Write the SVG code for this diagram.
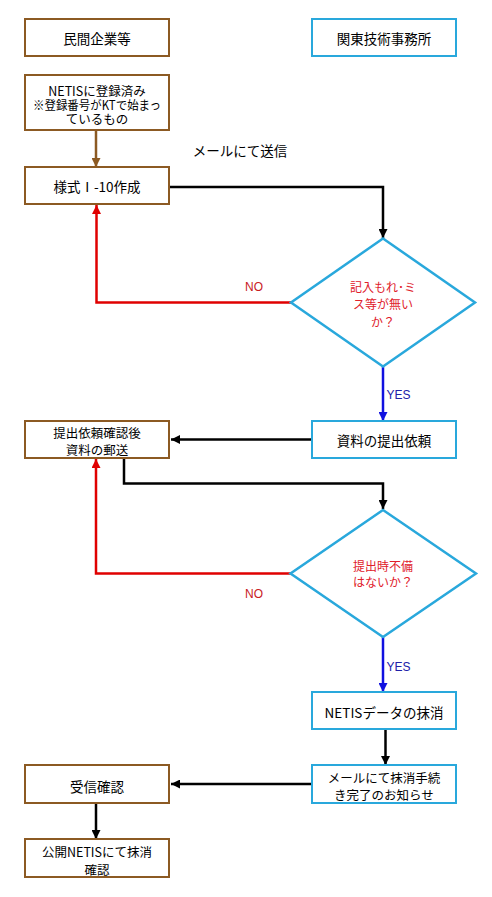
<svg xmlns="http://www.w3.org/2000/svg" width="492" height="897" viewBox="0 0 492 897">
<style>
.bb{fill:#fff;stroke:#8c5a23;stroke-width:2}
.cb{fill:#fff;stroke:#29a8dc;stroke-width:2}
.dm{fill:#fff;stroke:#29a8dc;stroke-width:2.5}
.t{font-family:"Noto Sans CJK JP","Noto Sans",sans-serif;font-size:13.5px;fill:#000;text-anchor:middle;dominant-baseline:central}
.s{font-size:12.5px}
.dt{font-family:"Noto Sans CJK JP","Noto Sans",sans-serif;font-size:12px;fill:#e0202a;text-anchor:middle;dominant-baseline:central}
.no{font-family:"Liberation Sans",Arial,sans-serif;font-size:12px;fill:#c8201e;dominant-baseline:central}
.yes{font-family:"Liberation Sans",Arial,sans-serif;font-size:12px;fill:#2020a8;dominant-baseline:central}
.k{fill:none;stroke:#000;stroke-width:2.5}
.r{fill:none;stroke:#e00000;stroke-width:2.5}
.b{fill:none;stroke:#1010e0;stroke-width:2.5}
.w{fill:none;stroke:#8c5a23;stroke-width:2.5}
</style>
<defs>
<marker id="ak" markerUnits="userSpaceOnUse" markerWidth="10" markerHeight="9" refX="9" refY="4.5" orient="auto"><path d="M0,0 L9,4.5 L0,9 z" fill="#000"/></marker>
<marker id="ar" markerUnits="userSpaceOnUse" markerWidth="10" markerHeight="9" refX="9" refY="4.5" orient="auto"><path d="M0,0 L9,4.5 L0,9 z" fill="#e00000"/></marker>
<marker id="ab" markerUnits="userSpaceOnUse" markerWidth="10" markerHeight="9" refX="9" refY="4.5" orient="auto"><path d="M0,0 L9,4.5 L0,9 z" fill="#1010e0"/></marker>
<marker id="aw" markerUnits="userSpaceOnUse" markerWidth="10" markerHeight="9" refX="9" refY="4.5" orient="auto"><path d="M0,0 L9,4.5 L0,9 z" fill="#8c5a23"/></marker>
</defs>
<rect width="492" height="897" fill="#fff"/>
<g id="connectors">
<path class="w" d="M96 130 V167" marker-end="url(#aw)"/>
<path class="k" d="M169 187 H383 V238" marker-end="url(#ak)"/>
<path class="r" d="M291 302.5 H96.5 V205" marker-end="url(#ar)"/>
<path class="b" d="M383 367 V421" marker-end="url(#ab)"/>
<path class="k" d="M312 439.5 H171" marker-end="url(#ak)"/>
<path class="r" d="M291 573.5 H96 V459" marker-end="url(#ar)"/>
<path class="k" d="M124 458 V483.5 H383 V509" marker-end="url(#ak)"/>
<path class="b" d="M383 637 V692" marker-end="url(#ab)"/>
<path class="k" d="M385.5 729 V765" marker-end="url(#ak)"/>
<path class="k" d="M312 784 H171" marker-end="url(#ak)"/>
<path class="k" d="M96 803 V839" marker-end="url(#ak)"/>
<text class="t" x="240" y="150">メールにて送信</text>
<text class="no" x="245" y="287">NO</text>
<text class="yes" x="386.5" y="395">YES</text>
<text class="no" x="245" y="594">NO</text>
<text class="yes" x="386.5" y="666.5">YES</text>
</g>
<g id="n-minkan"><rect class="bb" x="25" y="19" width="144" height="37"/><text class="t" x="97" y="37.5">民間企業等</text></g>
<g id="n-kanto"><rect class="cb" x="312" y="19" width="144" height="37"/><text class="t" x="384" y="37.5">関東技術事務所</text></g>
<g id="n-netis"><rect class="bb" x="25" y="75" width="144" height="55"/><text class="t s" x="97" y="90">NETISに登録済み</text><text class="t s" x="97" y="104" textLength="128" lengthAdjust="spacingAndGlyphs">※登録番号がKTで始まっ</text><text class="t s" x="97" y="118">ているもの</text></g>
<g id="n-yoshiki"><rect class="bb" x="25" y="167" width="144" height="37"/><text class="t" x="97" y="186">様式Ⅰ-10作成</text></g>
<g id="d-check1"><polygon class="dm" points="383,238.5 475,302.5 383,366.5 291,302.5"/><text class="dt" x="383" y="286">記入もれ･ミ</text><text class="dt" x="383" y="303.5">ス等が無い</text><text class="dt" x="383" y="321">か？</text></g>
<g id="n-irai"><rect class="cb" x="312" y="421" width="144" height="37"/><text class="t" x="384" y="440">資料の提出依頼</text></g>
<g id="n-yuso"><rect class="bb" x="25" y="421" width="144" height="37"/><text class="t s" x="97" y="432">提出依頼確認後</text><text class="t s" x="97" y="449.5">資料の郵送</text></g>
<g id="d-check2"><polygon class="dm" points="383,510 476,573.5 383,637 290.5,573.5"/><text class="dt" x="383" y="565">提出時不備</text><text class="dt" x="383" y="581.5">はないか？</text></g>
<g id="n-massho"><rect class="cb" x="312" y="692" width="144" height="37"/><text class="t" x="384" y="712">NETISデータの抹消</text></g>
<g id="n-oshirase"><rect class="cb" x="312" y="765" width="144" height="38"/><text class="t s" x="384" y="777">メールにて抹消手続</text><text class="t s" x="384" y="794.5">き完了のお知らせ</text></g>
<g id="n-jushin"><rect class="bb" x="25" y="765" width="144" height="38"/><text class="t" x="97" y="786">受信確認</text></g>
<g id="n-kokai"><rect class="bb" x="25" y="839" width="144" height="38"/><text class="t s" x="97" y="851">公開NETISにて抹消</text><text class="t s" x="97" y="869">確認</text></g>
</svg>
